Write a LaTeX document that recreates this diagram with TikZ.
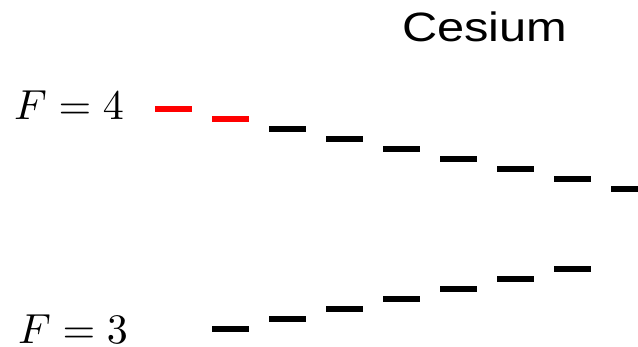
\documentclass[tikz,border=0pt]{standalone}
\usepackage{fontspec}
\newfontfamily\labelsans{Liberation Sans}
\begin{document}
\begin{tikzpicture}[x=1pt,y=-1pt,
  level/.style={draw=none,fill=#1,minimum width=37pt,minimum height=6pt,inner sep=0pt,outer sep=0pt,anchor=west},
  level/.default=black,
  flabel/.style={anchor=base west,inner sep=0pt}]
\useasboundingbox (0,0) rectangle (638,346);
\clip (0,0) rectangle (638,346);
% title
\node[anchor=base west,inner sep=0pt,font=\labelsans\fontsize{41}{48}\selectfont] (title) at (402,41) {\scalebox{1.19}[1]{Cesium}};
% hyperfine labels
\node[flabel] (f4) at (14,119) {\scalebox{4.2}{$F=4$}};
\node[flabel] (f3) at (18,343) {\scalebox{4.2}{$F=3$}};
% F=4 Zeeman sublevels
\foreach \i in {0,...,8}{
  \ifnum\i<2
    \node[level=red] (u\i) at ({155+57*\i},{108.5+10*\i}) {};
  \else
    \node[level] (u\i) at ({155+57*\i},{108.5+10*\i}) {};
  \fi
}
% F=3 Zeeman sublevels
\foreach \j in {0,...,6}{
  \node[level] (d\j) at ({212+57*\j},{328.5-10*\j}) {};
}
\end{tikzpicture}
\end{document}
